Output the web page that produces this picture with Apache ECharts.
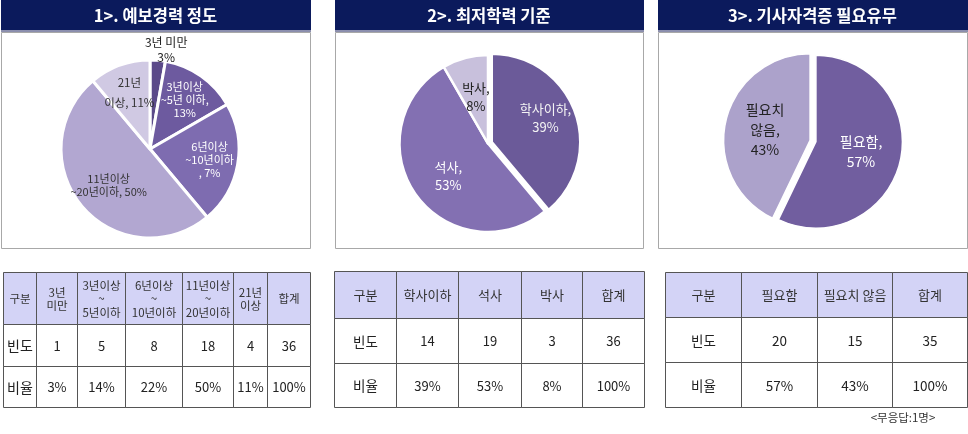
<!DOCTYPE html>
<html><head><meta charset="utf-8">
<script src="https://cdn.jsdelivr.net/npm/echarts@6/dist/echarts.min.js"></script>
<style>html,body{margin:0;padding:0;background:#fff}#c{width:968px;height:434px}</style>
</head><body><div id="c"></div>
<script>
// ---------------- data ----------------
const titles = ['1>. 예보경력 정도', '2>. 최저학력 기준', '3>. 기사자격증 필요유무'];
const rowNames = ['빈도', '비율'];

const expCats = ['3년 미만', '3년이상~5년이하', '6년이상~10년이하', '11년이상~20년이하', '21년 이상'];
const expFreq = [1, 5, 8, 18, 4];
const expRatio = ['3%', '14%', '22%', '50%', '11%'];
const expTotal = ['36', '100%'];
const expHeads = ['구분', '3년\n미만', '3년이상\n~\n5년이하', '6년이상\n~\n10년이하', '11년이상\n~\n20년이하', '21년\n이상', '합계'];
const expPieLabels = ['3년 미만\n3%', '3년이상\n~5년 이하,\n13%', '6년이상\n~10년이하\n, 7%', '11년이상\n~20년이하, 50%', '21년\n이상, 11%'];

const eduCats = ['학사이하', '석사', '박사'];
const eduFreq = [14, 19, 3];
const eduRatio = ['39%', '53%', '8%'];
const eduTotal = ['36', '100%'];
const eduHeads = ['구분', '학사이하', '석사', '박사', '합계'];
const eduPieLabels = ['학사이하,\n39%', '석사,\n53%', '박사,\n8%'];

const licCats = ['필요함', '필요치 않음'];
const licFreq = [20, 15];
const licRatio = ['57%', '43%'];
const licTotal = ['35', '100%'];
const licHeads = ['구분', '필요함', '필요치 않음', '합계'];
const licPieLabels = ['필요함,\n57%', '필요치\n않음,\n43%'];

const footnote = '<무응답:1명>';

// ---------------- styles / layout ----------------
const FONT = '"Noto Sans CJK KR", "Noto Sans", sans-serif';
const expColors = ['#5b4a89', '#6d5a9f', '#7e6cb0', '#b2a7d1', '#d0c9e3'];
const expLabelColors = ['#222', '#fff', '#fff', '#333', '#333'];
const eduColors = ['#6b5a99', '#8370b2', '#c8c0dc'];
const eduLabelColors = ['#f4f4f4', '#fff', '#222'];
const licColors = ['#715e9f', '#aca2cb'];
const licLabelColors = ['#fff', '#222'];

const panels = [[1, 310], [335, 643], [658, 967]];
const tables = [
  { xs: [3, 36, 77, 125, 182, 233, 267, 310], ys: [272, 324, 366, 407], fs: 13, rfs: 14, hfs: 11.5 },
  { xs: [334, 396, 458, 521, 582, 644], ys: [271, 318, 363, 407], fs: 13, rfs: 13.5, hfs: 13 },
  { xs: [665, 741, 817, 892, 967], ys: [272, 317, 362, 407], fs: 13.5, rfs: 13.5, hfs: 13 }
];

const g = [];
panels.forEach((p, i) => {
  g.push({ type: 'rect', z: 0, shape: { x: p[0] + 0.5, y: 32.5, width: p[1] - p[0], height: 216 }, style: { fill: '#fff', stroke: '#a8a8a8', lineWidth: 1 } });
  g.push({ type: 'rect', z: 1, shape: { x: p[0], y: 0, width: p[1] - p[0] + 1, height: 30 }, style: { fill: '#0b1a5c' } });
  g.push({ type: 'rect', z: 1, shape: { x: p[0], y: 30, width: p[1] - p[0] + 1, height: 2 }, style: { fill: '#8c8fae' } });
  g.push({ type: 'text', z: 2, x: (p[0] + p[1]) / 2, y: 16, style: { text: titles[i], fill: '#fff', fontSize: 16.5, fontWeight: 'bold', fontFamily: FONT, align: 'center', verticalAlign: 'middle' } });
});

function addTable(t, heads, vals1, vals2, totals) {
  const rows = [heads, [rowNames[0]].concat(vals1.map(String), [totals[0]]), [rowNames[1]].concat(vals2, [totals[1]])];
  const xs = t.xs, ys = t.ys;
  g.push({ type: 'rect', z: 1, shape: { x: xs[0], y: ys[0], width: xs[xs.length - 1] - xs[0], height: ys[1] - ys[0] }, style: { fill: '#d3d3f6' } });
  for (let r = 0; r < ys.length - 1; r++) {
    for (let c = 0; c < xs.length - 1; c++) {
      g.push({ type: 'rect', z: 2, shape: { x: xs[c] + 0.5, y: ys[r] + 0.5, width: xs[c + 1] - xs[c], height: ys[r + 1] - ys[r] }, style: { fill: null, stroke: '#555', lineWidth: 1 } });
      const fs = r === 0 ? t.hfs : (c === 0 ? t.rfs : t.fs);
      g.push({ type: 'text', z: 3, x: (xs[c] + xs[c + 1]) / 2 + 0.5, y: (ys[r] + ys[r + 1]) / 2 + 1,
        style: { text: rows[r][c], fill: r === 0 ? '#333' : '#222', fontSize: fs, lineHeight: r === 0 ? 13.5 : 16, fontFamily: FONT, align: 'center', verticalAlign: 'middle' } });
    }
  }
}
addTable(tables[0], expHeads, expFreq, expRatio, expTotal);
addTable(tables[1], eduHeads, eduFreq, eduRatio, eduTotal);
addTable(tables[2], licHeads, licFreq, licRatio, licTotal);
g.push({ type: 'text', z: 3, x: 903, y: 418, style: { text: footnote, fill: '#333', fontSize: 11.5, fontFamily: FONT, align: 'center', verticalAlign: 'middle' } });

// label fine shifts (style only)
const eduShift = [[-1, -4], [8, -1], [3, 10]];

const base = { type: 'pie', startAngle: 90, clockwise: true, silent: true, animation: false };

const option = {
  animation: false,
  graphic: { elements: g },
  series: [
    Object.assign({}, base, {
      center: [150, 149], radius: 89,
      label: { show: false }, labelLine: { show: false },
      itemStyle: { borderColor: '#fff', borderWidth: 3 },
      data: expFreq.map((v, i) => ({ value: v, name: expCats[i], itemStyle: { color: expColors[i] } }))
    }),
    Object.assign({}, base, {
      center: [150, 149], radius: [26, 89],
      itemStyle: { color: 'rgba(0,0,0,0)', borderWidth: 0 },
      label: { show: true, position: 'inside', fontSize: 11, lineHeight: 13, fontFamily: FONT, formatter: p => expPieLabels[p.dataIndex] },
      labelLine: { show: false },
      labelLayout: p => p.dataIndex === 0 ? { align: 'center', dx: 3, dy: -5 } : (p.dataIndex === 3 ? { dx: 5, dy: -3 } : {}),
      data: expFreq.map((v, i) => ({
        value: v, name: expCats[i],
        label: i === 0 ? { position: 'outside', color: expLabelColors[i], fontSize: 12, lineHeight: 15 }
             : (i === 4 ? { color: expLabelColors[i], lineHeight: 20, fontSize: 11.5 } : { color: expLabelColors[i] }),
        labelLine: i === 0 ? { show: false, length: 5, length2: 0 } : { show: false }
      }))
    }),
    Object.assign({}, base, {
      center: [488, 143.5], radius: 88.5,
      selectedMode: 'multiple', selectedOffset: 4,
      label: { show: false }, labelLine: { show: false },
      itemStyle: { borderColor: '#fff', borderWidth: 2.5 },
      data: eduFreq.map((v, i) => ({ value: v, name: eduCats[i], selected: i === 0,
        itemStyle: { color: eduColors[i] }, select: { itemStyle: { color: eduColors[i], borderColor: '#fff', borderWidth: 2.5 } } }))
    }),
    Object.assign({}, base, {
      center: [488, 143.5], radius: [22, 88.5],
      selectedMode: 'multiple', selectedOffset: 4,
      itemStyle: { color: 'rgba(0,0,0,0)', borderWidth: 0 },
      label: { show: true, position: 'inside', fontSize: 13, lineHeight: 18, fontFamily: FONT, formatter: p => eduPieLabels[p.dataIndex] },
      labelLine: { show: false },
      labelLayout: p => ({ dx: eduShift[p.dataIndex][0], dy: eduShift[p.dataIndex][1] }),
      data: eduFreq.map((v, i) => ({ value: v, name: eduCats[i], selected: i === 0,
        label: { color: eduLabelColors[i] },
        select: { itemStyle: { color: 'rgba(0,0,0,0)', borderWidth: 0 }, label: { color: eduLabelColors[i] } } }))
    }),
    Object.assign({}, base, {
      center: [813, 141], radius: 86.5,
      selectedMode: 'multiple', selectedOffset: 3,
      itemStyle: { borderColor: '#fff', borderWidth: 1.5 },
      label: { show: true, position: 'inside', fontSize: 14, lineHeight: 20, fontFamily: FONT, formatter: p => licPieLabels[p.dataIndex] },
      labelLine: { show: false },
      data: licFreq.map((v, i) => ({ value: v, name: licCats[i], selected: true,
        itemStyle: { color: licColors[i] }, label: { color: licLabelColors[i] },
        select: { itemStyle: { color: licColors[i], borderColor: '#fff', borderWidth: 1.5 }, label: { color: licLabelColors[i] } } }))
    })
  ]
};

const chart = echarts.init(document.getElementById('c'), null, { renderer: 'canvas' });
chart.setOption(option);
</script>
</body></html>
